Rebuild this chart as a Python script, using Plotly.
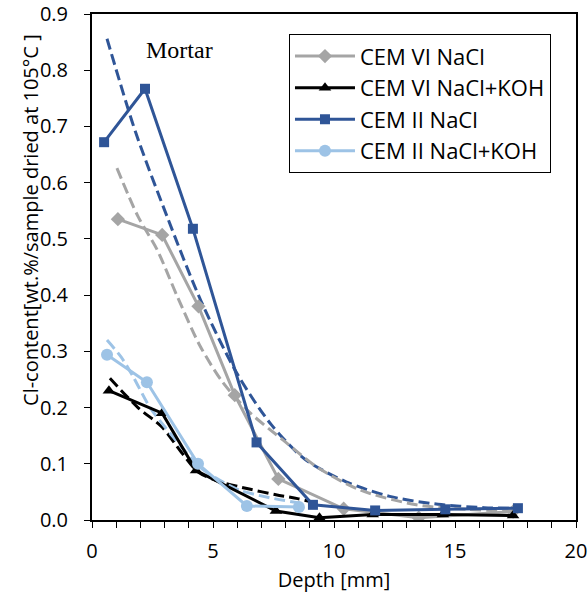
import plotly.graph_objects as go

# ── measured series (depth mm, Cl wt.%) ─────────────────────────
cem6_nacl_x = [1.07, 2.9, 4.4, 5.9, 7.7, 10.4, 13.5, 17.4]
cem6_nacl_y = [0.535, 0.507, 0.380, 0.222, 0.073, 0.020, 0.004, 0.015]

cem6_koh_x = [0.7, 2.9, 4.3, 7.6, 9.4, 11.6, 14.5, 17.4]
cem6_koh_y = [0.230, 0.190, 0.088, 0.016, 0.004, 0.010, 0.010, 0.008]

cem2_nacl_x = [0.5, 2.19, 4.17, 6.8, 9.13, 11.7, 14.6, 17.6]
cem2_nacl_y = [0.672, 0.767, 0.518, 0.138, 0.027, 0.017, 0.019, 0.021]

cem2_koh_x = [0.62, 2.27, 4.38, 6.4, 8.55]
cem2_koh_y = [0.294, 0.245, 0.100, 0.025, 0.023]

# ── fitted curves (dashed) ─────────────────────────────────────
fit_cem2_nacl_x = [0.62, 1.8, 3.1, 4.5, 6.0, 7.4, 8.8, 10.5, 12.3, 14.3, 16.2, 17.5]
fit_cem2_nacl_y = [0.856, 0.69, 0.54, 0.39, 0.26, 0.17, 0.108, 0.068, 0.042, 0.028, 0.022, 0.021]

fit_cem6_nacl_x = [1.03, 1.9, 2.7, 3.5, 4.46, 5.4, 6.5, 7.9, 9.3, 11.1, 13.4, 15.5, 17.5]
fit_cem6_nacl_y = [0.626, 0.54, 0.48, 0.40, 0.31, 0.245, 0.192, 0.142, 0.094, 0.053, 0.027, 0.019, 0.015]

fit_cem6_koh_x = [0.74, 1.9, 2.9, 3.7, 4.4, 5.3, 6.5, 7.6, 8.5, 9.1]
fit_cem6_koh_y = [0.252, 0.20, 0.165, 0.12, 0.085, 0.068, 0.055, 0.045, 0.038, 0.032]

fit_cem2_koh_x = [0.62, 1.2, 1.7, 2.4, 3.35, 4.46, 5.3, 6.1, 7.3, 8.6]
fit_cem2_koh_y = [0.32, 0.29, 0.255, 0.20, 0.148, 0.094, 0.07, 0.053, 0.04, 0.03]

GRAY = '#A5A5A5'
BLACK = '#000000'
DBLUE = '#2F5597'
LBLUE = '#9DC3E6'

fig = go.Figure()

# dashed fits (no legend)
for fx, fy, col in [
    (fit_cem2_nacl_x, fit_cem2_nacl_y, DBLUE),
    (fit_cem6_nacl_x, fit_cem6_nacl_y, GRAY),
    (fit_cem6_koh_x, fit_cem6_koh_y, BLACK),
    (fit_cem2_koh_x, fit_cem2_koh_y, LBLUE),
]:
    fig.add_trace(go.Scatter(
        x=fx, y=fy, mode='lines', showlegend=False,
        line=dict(color=col, width=3, dash='11px,5px', shape='spline', smoothing=0.8),
    ))

# measured series
series = [
    ('CEM VI NaCl', cem6_nacl_x, cem6_nacl_y, GRAY, 'diamond', 11),
    ('CEM VI NaCl+KOH', cem6_koh_x, cem6_koh_y, BLACK, 'triangle-up', 11),
    ('CEM II NaCl', cem2_nacl_x, cem2_nacl_y, DBLUE, 'square', 10),
    ('CEM II NaCl+KOH', cem2_koh_x, cem2_koh_y, LBLUE, 'circle', 12),
]
for name, sx, sy, col, sym, sz in series:
    fig.add_trace(go.Scatter(
        x=sx, y=sy, mode='lines+markers', name=name, legendgroup=name,
        line=dict(color=col, width=3),
        marker=dict(color=col, symbol=sym, size=sz),
    ))

fig.add_annotation(
    x=3.6, y=0.836, text='Mortar', showarrow=False,
    font=dict(family='Liberation Serif', size=24, color='#000'),
)
# y-axis title as annotation so it can sit close to the tick labels
fig.add_annotation(
    xref='paper', yref='paper', x=-0.126, y=0.593, textangle=-90,
    text='Cl-content[wt.%/sample dried at 105°C ]', showarrow=False,
    xanchor='center', yanchor='middle',
    font=dict(family='Open Sans', size=20, color='#000'),
)

fig.update_layout(
    width=588, height=603,
    margin=dict(l=92, r=12, t=14, b=83),
    plot_bgcolor='white', paper_bgcolor='white',
    font=dict(family='Open Sans', size=20, color='#000'),
    legend=dict(
        x=0.407, y=0.96, xanchor='left', yanchor='top',
        bordercolor='#000', borderwidth=1, bgcolor='white',
        font=dict(family='Open Sans', size=22),
        tracegroupgap=0, itemwidth=60,
    ),
)
fig.update_xaxes(
    range=[0, 20], dtick=5, tickformat='d', automargin=False,
    ticks='outside', ticklen=6, tickcolor='#000', ticklabelstandoff=6,
    ticklabeloverflow='allow',
    minor=dict(dtick=1, ticks='outside', ticklen=6, tickcolor='#000'),
    showline=True, linecolor='#000', linewidth=2, mirror=True,
    showgrid=False, zeroline=False,
    title=dict(text='Depth [mm]', standoff=10, font=dict(size=20)),
)
fig.update_yaxes(
    range=[0, 0.9], dtick=0.1, tickformat='.1f', automargin=False,
    ticks='outside', ticklen=6, tickcolor='#000', ticklabelstandoff=12,
    ticklabeloverflow='allow',
    showline=True, linecolor='#000', linewidth=2, mirror=True,
    showgrid=False, zeroline=False,
)

# drop the browser's default body margin so the figure sits at the page corner
fig.write_html('out.html', config={'displayModeBar': False},
               post_script="document.body.style.margin='0';")
